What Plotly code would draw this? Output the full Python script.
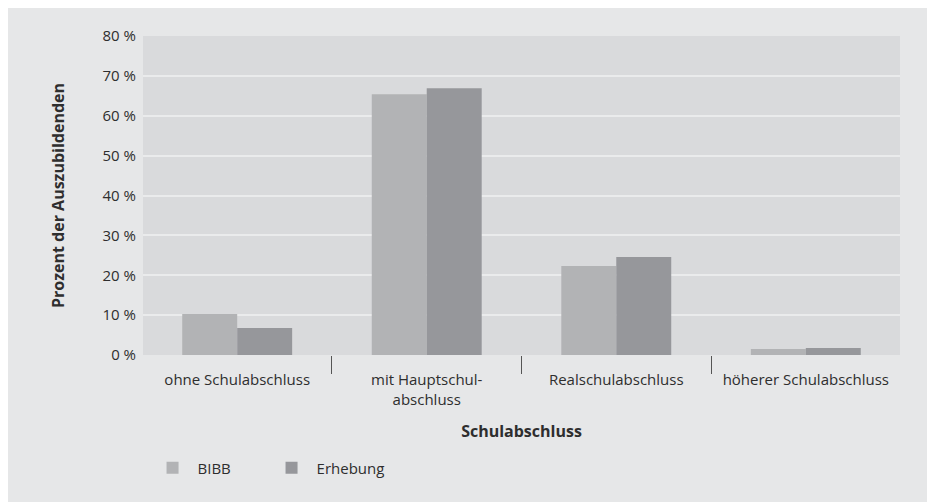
import plotly.graph_objects as go

categories = ["ohne Schulabschluss", "mit Hauptschul-<br>abschluss", "Realschulabschluss", "höherer Schulabschluss"]
bibb = [10.3, 65.4, 22.3, 1.5]
erhebung = [6.8, 66.9, 24.6, 1.75]
y_ticks = [0, 10, 20, 30, 40, 50, 60, 70, 80]
y_ticklabels = [f"{v} %" for v in y_ticks]

FONT = "Open Sans"
PANEL = "#e6e7e8"
PLOTBG = "#d9dadc"
TXT = "#2e2e2e"

fig = go.Figure()
fig.add_trace(go.Bar(name="BIBB", x=categories, y=bibb, marker=dict(color="#b2b3b5", line=dict(width=0))))
fig.add_trace(go.Bar(name="Erhebung", x=categories, y=erhebung, marker=dict(color="#96979b", line=dict(width=0))))

fig.update_layout(
    width=935, height=502,
    margin=dict(l=135, r=43, t=28, b=155),
    paper_bgcolor=PANEL, plot_bgcolor=PLOTBG,
    barmode="group", bargap=0.42, bargroupgap=0,
    font=dict(family=FONT, size=15, color=TXT),
    showlegend=True,
    legend=dict(orientation="h", x=0.006, y=-0.354, xanchor="left", yanchor="middle",
                bgcolor="rgba(0,0,0,0)", font=dict(size=15, color=TXT),
                entrywidth=64, entrywidthmode="pixels", itemwidth=40),
    xaxis=dict(
        title=dict(text="<b>Schulabschluss</b>", font=dict(size=16, color=TXT), standoff=18),
        range=[-0.497, 3.497],
        showgrid=False, ticks="outside", tickson="boundaries", ticklen=18,
        tickcolor="#555555", tickwidth=1, tickfont=dict(size=15, color=TXT),
        ticklabelstandoff=14,
        showline=False, zeroline=False,
    ),
    yaxis=dict(
        title=dict(text="<b>Prozent der Auszubildenden</b>", font=dict(size=16, color=TXT), standoff=33),
        range=[0, 80], tickvals=y_ticks, ticktext=y_ticklabels,
        showgrid=True, gridcolor="#eaebec", gridwidth=2,
        zeroline=False, showline=False,
        ticks="outside", ticklen=3, tickcolor="rgba(0,0,0,0)",
        tickfont=dict(size=15, color=TXT),
    ),
)

fig.write_html("out.html")
